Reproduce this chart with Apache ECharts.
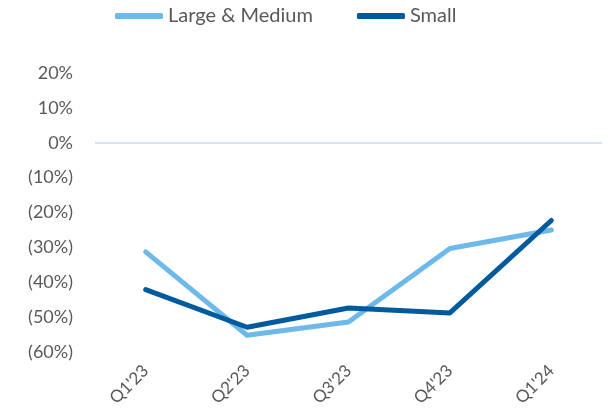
<!DOCTYPE html>
<html>
<head>
<meta charset="utf-8">
<script src="https://cdn.jsdelivr.net/npm/echarts@6/dist/echarts.min.js"></script>
<style>
  html, body { margin: 0; padding: 0; background: #fff; }
  #chart { width: 610px; height: 420px; }
</style>
</head>
<body>
<div id="chart"></div>
<script>
// Quarterly change, by company size
const quarters = ["Q1'23", "Q2'23", "Q3'23", "Q4'23", "Q1'24"];
const largeMedium = [-31.3, -55.2, -51.4, -30.3, -25.0];
const small = [-42.1, -52.9, -47.4, -48.8, -22.3];
const seriesNames = ['Large & Medium', 'Small'];

const textColor = '#595959';
const fontFamily = 'Lato, "DejaVu Sans", sans-serif';

function pct(v) {
  if (v < 0) return '(' + Math.abs(v) + '%)';
  return v + '%';
}

const chart = echarts.init(document.getElementById('chart'), null, { renderer: 'canvas' });
chart.setOption({
  animation: false,
  backgroundColor: '#ffffff',
  legend: {
    top: 1,
    left: 110,
    itemWidth: 48,
    itemHeight: 6,
    itemGap: 44,
    icon: 'roundRect',
    textStyle: { color: textColor, fontSize: 20, fontFamily: fontFamily },
    data: seriesNames
  },
  grid: { left: 95, right: 8, top: 73, bottom: 68 },
  xAxis: {
    type: 'category',
    data: quarters,
    boundaryGap: true,
    axisLine: { show: false, onZero: false },
    axisTick: { show: false },
    axisLabel: {
      rotate: 45,
      margin: 16,
      color: textColor,
      fontSize: 17,
      fontFamily: fontFamily
    }
  },
  yAxis: {
    type: 'value',
    min: -60,
    max: 20,
    interval: 10,
    axisLine: { show: false },
    axisTick: { show: false },
    splitLine: { show: false },
    axisLabel: {
      margin: 22,
      color: textColor,
      fontSize: 18,
      fontFamily: fontFamily,
      formatter: pct
    }
  },
  series: [
    {
      name: seriesNames[0],
      type: 'line',
      data: largeMedium,
      symbol: 'none',
      color: '#6CB9EA',
      lineStyle: { width: 5, color: '#6CB9EA', cap: 'round', join: 'round' },
      markLine: {
        silent: true,
        symbol: 'none',
        label: { show: false },
        lineStyle: { color: '#D6E3F2', width: 2, type: 'solid' },
        data: [{ yAxis: 0 }]
      },
      z: 2
    },
    {
      name: seriesNames[1],
      type: 'line',
      data: small,
      symbol: 'none',
      color: '#005A9E',
      lineStyle: { width: 5, color: '#005A9E', cap: 'round', join: 'round' },
      z: 3
    }
  ]
});
</script>
</body>
</html>
